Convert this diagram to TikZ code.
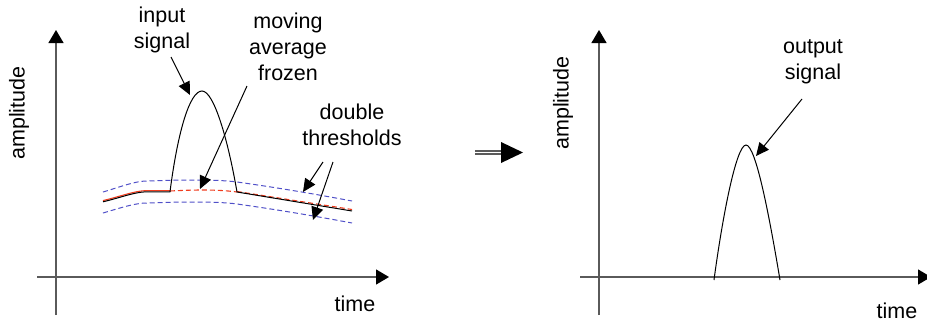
\documentclass[tikz,border=0pt]{standalone}
\usepackage{fontspec}
\setmainfont{Liberation Sans}
\usetikzlibrary{arrows.meta}
\definecolor{axisgray}{RGB}{90,90,90}
\definecolor{thrblue}{RGB}{80,80,200}
\definecolor{avgred}{RGB}{240,60,30}
\tikzset{
  axisline/.style={draw=axisgray, line width=1.3pt, -{Triangle[length=13pt,width=15pt,fill=black,color=black]}},
  sigline/.style={black, line width=1pt},
  pointer/.style={black, line width=1pt, -{Triangle[length=13pt,width=12pt]}},
  thr/.style={thrblue, line width=1pt, dash pattern=on 5pt off 3pt},
  avgdash/.style={avgred, line width=1.1pt, dash pattern=on 5pt off 3pt},
  lbl/.style={font=\fontsize{21.5}{26}\selectfont, align=center, inner sep=0pt},
}
\begin{document}
\begin{tikzpicture}[x=1pt,y=-1pt]
\useasboundingbox (0,0) rectangle (927,322);

% ---------- left plot ----------
\coordinate (LO1) at (56,315);
\coordinate (LT1) at (56,30);
\coordinate (LO2) at (37,277);
\coordinate (LT2) at (389,277);
\draw[axisline] (LO1) -- (LT1);
\draw[axisline] (LO2) -- (LT2);
\node[lbl, rotate=90] (amp1) at (19,113) {amplitude};
\node[lbl] (time1) at (355,304) {time};

% thresholds
\draw[thr] (103,192) .. controls (120,187) and (135,181) .. (147,181)
  .. controls (175,180) and (215,179) .. (237,182)
  .. controls (280,188) and (320,195) .. (352,201);
\draw[thr] (103,213) .. controls (120,208) and (135,203) .. (147,203)
  .. controls (175,202) and (215,201) .. (237,204)
  .. controls (280,210) and (320,217) .. (352,223);

% moving average (red) with input signal on top
\draw[avgred, line width=1.1pt] (103,200.6) .. controls (120,196.6) and (135,190.6) .. (147,190.6) -- (170,190.6);
\draw[avgdash] (170,191) .. controls (190,190) and (215,189) .. (237,192);
\draw[avgdash] (237,191.5) -- (352,209.5);
\draw[sigline] (103,201.8) .. controls (120,197.8) and (135,191.8) .. (147,191.8) -- (170,191.8)
  .. controls (178,130) and (190,91) .. (202,91)
  .. controls (214,91) and (228,140) .. (237,192)
  -- (352,211);

\node[lbl] (inlbl) at (162,30) {input\\signal};
\node[lbl] (mavg) at (288,47) {moving\\average\\frozen};
\node[lbl] (dthr) at (352,125) {double\\thresholds};

\coordinate (inS) at (171,57);
\coordinate (inT) at (190,95);
\coordinate (maS) at (247,86);
\coordinate (maT) at (200,189);
\coordinate (d1S) at (323,162);
\coordinate (d1T) at (303,192);
\coordinate (d2S) at (333,162);
\coordinate (d2T) at (313,220);
\draw[pointer] (inS) -- (inT);
\draw[pointer] (maS) -- (maT);
\draw[pointer] (d1S) -- (d1T);
\draw[pointer] (d2S) -- (d2T);

% ---------- transition arrow ----------
\coordinate (mA) at (475,152.5);
\coordinate (mB) at (502,152.5);
\draw[axisgray, line width=1.2pt, double=white, double distance=1.8pt] (mA) -- (mB);
\fill[black] (501,142) -- (523,152.5) -- (501,163) -- cycle;

% ---------- right plot ----------
\coordinate (RO1) at (599,315);
\coordinate (RT1) at (599,30);
\coordinate (RO2) at (580,277);
\coordinate (RT2) at (931,277);
\draw[axisline] (RO1) -- (RT1);
\draw[axisline] (RO2) -- (RT2);
\node[lbl, rotate=90] (amp2) at (563,103) {amplitude};
\node[lbl] (time2) at (897,311) {time};

\draw[sigline] (714,280) .. controls (722,220) and (736,145) .. (746,145)
  .. controls (756,145) and (770,220) .. (780,280);

\node[lbl] (outlbl) at (813,62) {output\\signal};
\coordinate (oS) at (802,99);
\coordinate (oT) at (756,156);
\draw[pointer] (oS) -- (oT);
\end{tikzpicture}
\end{document}
